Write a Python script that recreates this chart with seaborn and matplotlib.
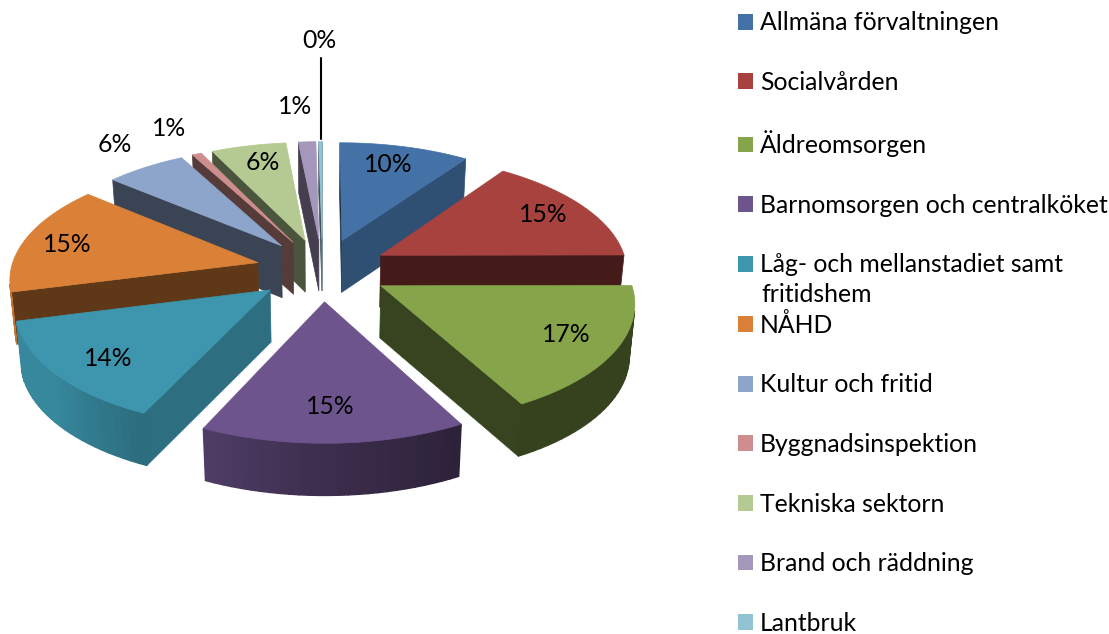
import numpy as np
import matplotlib
matplotlib.use("Agg")
import matplotlib.pyplot as plt
from matplotlib.patches import Polygon, Patch
import seaborn as sns

categories = ["Allmäna förvaltningen", "Socialvården", "Äldreomsorgen",
              "Barnomsorgen och centralköket", "Låg- och mellanstadiet samt",
              "NÅHD", "Kultur och fritid", "Byggnadsinspektion",
              "Tekniska sektorn", "Brand och räddning", "Lantbruk"]
shares = [9.7, 15.2, 17.1, 14.8, 14.0, 15.1, 6.0, 0.7, 5.6, 1.3, 0.25]
colors = ["#4472A7", "#A8423F", "#86A44A", "#6E548D", "#3D96AE", "#DA8137",
          "#8EA5CB", "#CE8E8D", "#B5CA92", "#A596BB", "#92C3D4"]

sns.set_theme(style="white")
plt.rcParams["font.family"] = ["Lato", "DejaVu Sans"]

FS = 17.8
fig = plt.figure(figsize=(11.09, 6.34), dpi=100)
ax = fig.add_axes([0, 0, 1, 1])
wedges, _ = ax.pie(shares, colors=sns.color_palette(colors), startangle=90,
                   counterclock=False)
angles = []
for w in wedges:
    # clockwise angle from 12 o'clock
    a0 = (90 - w.theta2) % 360
    a1 = a0 + (w.theta2 - w.theta1)
    angles.append((a0, a1))
    w.set_visible(False)
ax.set_aspect("auto")
ax.set_xlim(0, 1109)
ax.set_ylim(634, 0)
ax.axis("off")

CX, CY, RX, RY, K, EXPL, DEPTH = 322.5, 269.5, 247, 116, 0.12, 0.27, 52


def project(X, Y, z=0.0):
    d = 1 + K * Y
    sx = CX + RX * X / d
    sy = CY - RY * Y / d
    dz = 1 - 0.018 * z
    return CX + (sx - CX) * dz, CY + (sy - CY) * dz + DEPTH * z * (1 - 0.05 * Y)


def shaded(col, f):
    rgb = np.array(matplotlib.colors.to_rgb(col))
    return tuple(np.clip(rgb * f, 0, 1))


def cut_shade(theta):
    return np.interp(theta % 360, [0, 118, 126, 170, 360], [0.42, 0.75, 0.68, 0.41, 0.42])


def wall_shade(theta):
    return np.interp(theta % 360, [0, 150, 180, 208, 230, 360], [0.42, 0.40, 0.55, 0.75, 0.9, 0.9])


def area(pts):
    p = np.array(pts)
    return 0.5 * np.sum(p[:, 0] * np.roll(p[:, 1], -1) - np.roll(p[:, 0], -1) * p[:, 1])


def add(pts, col, z, lw=0.5):
    ax.add_patch(Polygon(pts, closed=True, facecolor=col, edgecolor=col, linewidth=lw, zorder=z))


order = sorted(range(len(shares)), key=lambda i: -np.cos(np.radians(sum(angles[i]) / 2)))
for rank, i in enumerate(order):
    a0, a1 = angles[i]
    mid = np.radians((a0 + a1) / 2)
    ax0, ay0 = EXPL * np.sin(mid), EXPL * np.cos(mid)
    th = np.radians(np.linspace(a0, a1, max(3, int((a1 - a0) / 2) + 2)))
    rimX = ax0 + np.sin(th)
    rimY = ay0 + np.cos(th)
    base = 10 + rank * 3
    col = colors[i]
    # cut faces, kept only when they face the viewer
    for (ex, ey, a_edge, sgn) in ((rimX[0], rimY[0], a0, -1), (rimX[-1], rimY[-1], a1, 1)):
        q = [project(ax0, ay0), project(ex, ey), project(ex, ey, 1), project(ax0, ay0, 1)]
        if sgn * area(q) > 0:
            add(q, shaded(col, cut_shade(a_edge + sgn * 90)), base)
    # outer wall as a strip of shaded segments
    for j in range(len(th) - 1):
        q = [project(rimX[j], rimY[j]), project(rimX[j + 1], rimY[j + 1]),
             project(rimX[j + 1], rimY[j + 1], 1), project(rimX[j], rimY[j], 1)]
        if area(q) < 0:
            add(q, shaded(col, wall_shade(np.degrees(th[j]))), base + 1, lw=1.0)
    top = [project(ax0, ay0)] + [project(x, y) for x, y in zip(rimX, rimY)]
    add(top, col, base + 2)

# percentage labels
label_xy = [(388, 165), (543, 215), (566, 335), (330, 406), (108, 358), (67, 245),
            (115, 145), (169, 128), (263, 163), (295, 107), (319, 41)]
for v, (x, y) in zip(shares, label_xy):
    ax.text(x, y, f"{v:.0f}%", ha="center", va="center", fontsize=FS, color="black", zorder=100)
ax.plot([321, 321], [58, 139], color="black", lw=1.5, zorder=99)

handles = [Patch(facecolor=c, edgecolor="none") for c in colors]
leg = ax.legend(handles, categories, loc="upper left", bbox_to_anchor=(731 / 1109, 1 - 4 / 634),
                frameon=False, fontsize=FS, handlelength=0.6, handleheight=0.6,
                handletextpad=0.28, labelspacing=1.478, borderpad=0.3, borderaxespad=0,
                labelcolor="black")
leg.set_zorder(100)
ax.text(761, 295, "fritidshem", ha="left", va="center", fontsize=FS, color="black", zorder=100)

fig.savefig("out.png", dpi=100, facecolor="white")
